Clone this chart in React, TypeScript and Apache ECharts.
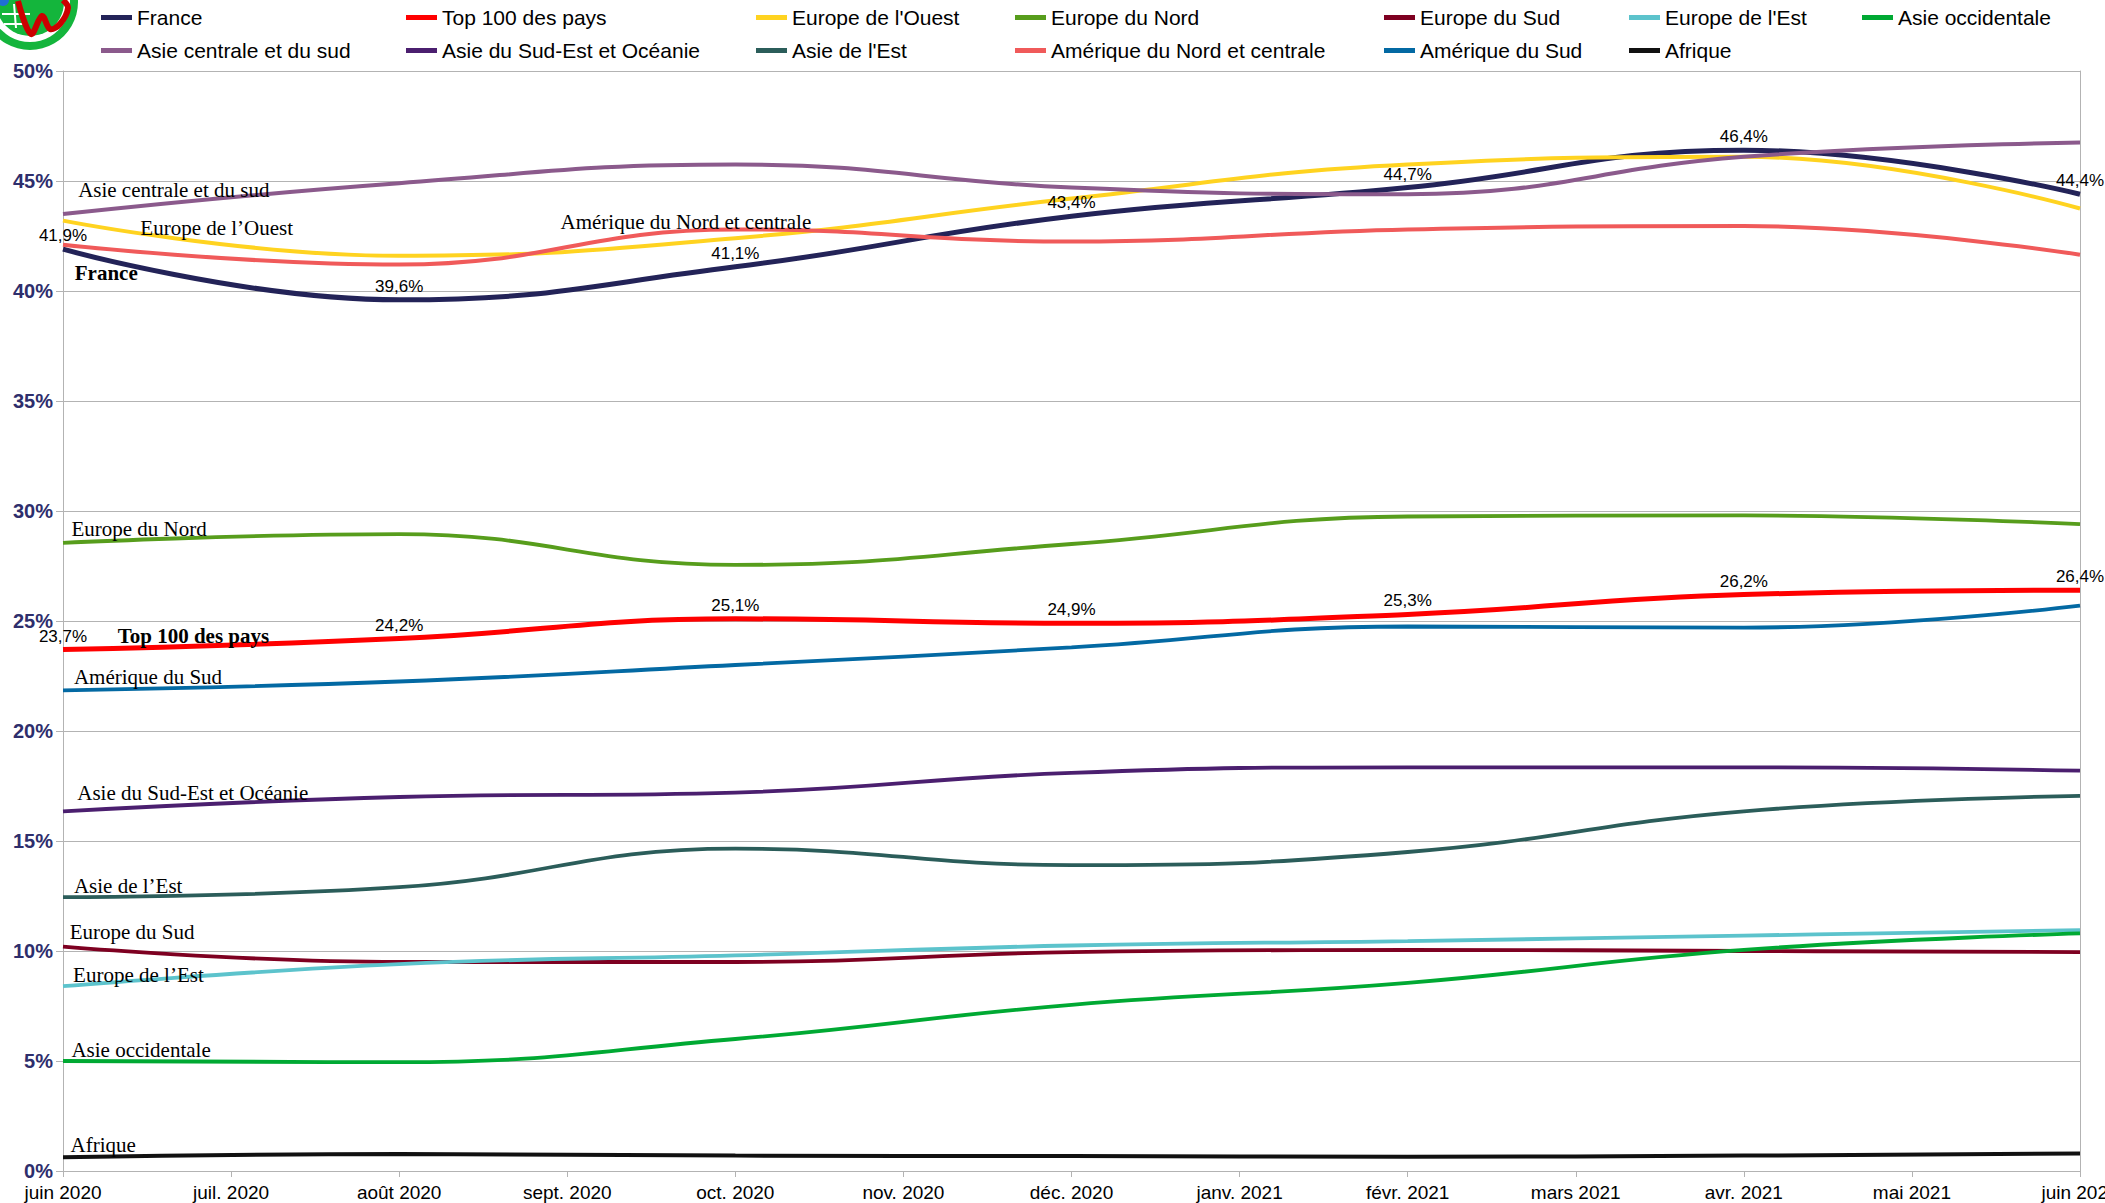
import React, { useEffect, useRef } from 'react';
import * as echarts from 'echarts';

const months = [
  'juin 2020', 'juil. 2020', 'août 2020', 'sept. 2020', 'oct. 2020', 'nov. 2020',
  'déc. 2020', 'janv. 2021', 'févr. 2021', 'mars 2021', 'avr. 2021', 'mai 2021', 'juin 2021',
];
// month index of each observation (bimonthly)
const sampleMonths = [0, 2, 4, 6, 8, 10, 12];

const yTicks = { min: 0, max: 50, step: 5 };

const france = [41.9, 39.6, 41.1, 43.4, 44.7, 46.4, 44.4];
const top100 = [23.7, 24.2, 25.1, 24.9, 25.3, 26.2, 26.4];
const europeOuest = [43.2, 41.6, 42.4, 44.2, 45.75, 46.1, 43.75];
const europeNord = [28.55, 28.95, 27.55, 28.5, 29.75, 29.8, 29.4];
const europeSud = [10.2, 9.5, 9.5, 9.95, 10.05, 10.0, 9.95];
const europeEst = [8.4, 9.4, 9.8, 10.25, 10.45, 10.7, 10.95];
const asieOcc = [5.0, 4.95, 6.0, 7.55, 8.55, 10.05, 10.8];
const asieCentrale = [43.5, 44.9, 45.75, 44.7, 44.4, 46.1, 46.75];
const asieSudEst = [16.35, 17.0, 17.2, 18.1, 18.35, 18.35, 18.2];
const asieEst = [12.45, 12.9, 14.65, 13.9, 14.5, 16.35, 17.05];
const ameriqueNord = [42.1, 41.2, 42.8, 42.25, 42.8, 42.95, 41.65];
const ameriqueSud = [21.85, 22.25, 23.0, 23.8, 24.75, 24.7, 25.7];
const afrique = [0.62, 0.77, 0.7, 0.68, 0.65, 0.7, 0.8];

const seriesDefs = [
  { name: 'France', data: france, color: '#232358', width: 5, labels: true },
  { name: 'Top 100 des pays', data: top100, color: '#ff0000', width: 5, labels: true },
  { name: "Europe de l'Ouest", data: europeOuest, color: '#ffd320', width: 4 },
  { name: 'Europe du Nord', data: europeNord, color: '#579d1c', width: 3.8 },
  { name: 'Europe du Sud', data: europeSud, color: '#7e0021', width: 3.8 },
  { name: "Europe de l'Est", data: europeEst, color: '#5cc3cc', width: 3.8 },
  { name: 'Asie occidentale', data: asieOcc, color: '#00a933', width: 3.8 },
  { name: 'Asie centrale et du sud', data: asieCentrale, color: '#8b5a8c', width: 4 },
  { name: 'Asie du Sud-Est et Océanie', data: asieSudEst, color: '#4b1f6f', width: 3.8 },
  { name: "Asie de l'Est", data: asieEst, color: '#2b5d5a', width: 3.8 },
  { name: 'Amérique du Nord et centrale', data: ameriqueNord, color: '#f05a5a', width: 4 },
  { name: 'Amérique du Sud', data: ameriqueSud, color: '#0369a3', width: 3.8 },
  { name: 'Afrique', data: afrique, color: '#111111', width: 4 },
];

// in-plot name annotations: [series, text, x (month index), y (%), bold]
const annotations: [string, string, number, number, boolean][] = [
  ['Asie centrale et du sud', 'Asie centrale et du sud', 0.09, 44.6, false],
  ["Europe de l'Ouest", 'Europe de l’Ouest', 0.46, 42.88, false],
  ['Amérique du Nord et centrale', 'Amérique du Nord et centrale', 2.96, 43.15, false],
  ['France', 'France', 0.07, 40.83, true],
  ['Europe du Nord', 'Europe du Nord', 0.05, 29.17, false],
  ['Top 100 des pays', 'Top 100 des pays', 0.325, 24.32, true],
  ['Amérique du Sud', 'Amérique du Sud', 0.065, 22.47, false],
  ['Asie du Sud-Est et Océanie', 'Asie du Sud-Est et Océanie', 0.085, 17.17, false],
  ["Asie de l'Est", 'Asie de l’Est', 0.065, 12.95, false],
  ['Europe du Sud', 'Europe du Sud', 0.04, 10.88, false],
  ["Europe de l'Est", 'Europe de l’Est', 0.06, 8.93, false],
  ['Asie occidentale', 'Asie occidentale', 0.05, 5.51, false],
  ['Afrique', 'Afrique', 0.045, 1.18, false],
];

const legendColumns = [
  ['France', 'Asie centrale et du sud'],
  ['Top 100 des pays', 'Asie du Sud-Est et Océanie'],
  ["Europe de l'Ouest", "Asie de l'Est"],
  ['Europe du Nord', 'Amérique du Nord et centrale'],
  ['Europe du Sud', 'Amérique du Sud'],
  ["Europe de l'Est", 'Afrique'],
  ['Asie occidentale'],
];
const legendLefts = [96, 401, 751, 1010, 1379, 1624, 1857];

const SANS = 'Liberation Sans, Arial, sans-serif';
const SERIF = 'Liberation Serif, Times New Roman, serif';

export default function App() {
  const ref = useRef<HTMLDivElement>(null);

  useEffect(() => {
    document.body.style.margin = '0';
    document.body.style.overflow = 'hidden';
    if (!ref.current) return;
    const chart = echarts.init(ref.current, undefined, { renderer: 'svg' });

    const series = seriesDefs.map((s) => {
      const ann = annotations.filter((a) => a[0] === s.name);
      return {
        name: s.name,
        type: 'line',
        yAxisIndex: 0,
        smooth: 0.45,
        symbol: 'circle',
        symbolSize: 0,
        showSymbol: true,
        color: s.color,
        itemStyle: { color: s.color },
        lineStyle: { color: s.color, width: s.width },
        data: s.data.map((v, i) => [sampleMonths[i], v]),
        label: s.labels
          ? {
              show: true,
              position: 'top',
              distance: 5,
              color: '#000',
              fontFamily: SANS,
              fontSize: 17,
              formatter: (p: any) => p.value[1].toFixed(1).replace('.', ',') + '%',
            }
          : { show: false },
        markPoint: ann.length
          ? {
              symbol: 'circle',
              symbolSize: 0,
              silent: true,
              itemStyle: { color: 'transparent' },
              data: ann.map((a) => ({
                coord: [a[2], a[3]],
                value: a[1],
                label: {
                  show: true,
                  position: 'right',
                  distance: 0,
                  formatter: a[1],
                  color: '#000',
                  fontFamily: SERIF,
                  fontSize: 21,
                  fontWeight: a[4] ? 'bold' : 'normal',
                },
              })),
            }
          : undefined,
      };
    });

    const legends = legendColumns.map((col, i) => ({
      orient: 'vertical',
      left: legendLefts[i],
      top: 2,
      data: col,
      icon: 'rect',
      itemWidth: 31,
      itemHeight: 5,
      itemGap: 12,
      selectedMode: false,
      textStyle: { color: '#000', fontFamily: SANS, fontSize: 21, lineHeight: 21, padding: [0, 0, 0, 0] },
    }));

    chart.setOption({
      animation: false,
      backgroundColor: '#ffffff',
      legend: legends,
      grid: { left: 63, right: 25, top: 71, bottom: 32, containLabel: false, outerBoundsMode: 'none' },
      xAxis: {
        type: 'value',
        min: 0,
        max: months.length - 1,
        interval: 1,
        axisLine: { show: true, lineStyle: { color: '#b3b3b3', width: 1 } },
        axisTick: { show: true, length: 6, lineStyle: { color: '#b3b3b3' } },
        splitLine: { show: false },
        axisLabel: {
          margin: 12,
          color: '#000',
          fontFamily: SANS,
          fontSize: 19,
          hideOverlap: false,
          formatter: (v: number) => months[Math.round(v)] ?? '',
        },
      },
      yAxis: [
        {
          type: 'value',
          min: yTicks.min,
          max: yTicks.max,
          interval: yTicks.step,
          axisLine: { show: true, lineStyle: { color: '#b3b3b3', width: 1 } },
          axisTick: { show: true, length: 7, lineStyle: { color: '#b3b3b3' } },
          splitLine: { show: true, lineStyle: { color: '#b3b3b3', width: 1 } },
          axisLabel: {
            margin: 10,
            color: '#2e2e6c',
            fontFamily: SANS,
            fontWeight: 'bold',
            fontSize: 20,
            formatter: (v: number) => v + '%',
          },
        },
        {
          type: 'value',
          position: 'right',
          min: yTicks.min,
          max: yTicks.max,
          interval: yTicks.step,
          axisLine: { show: true, lineStyle: { color: '#b3b3b3', width: 1 } },
          axisTick: { show: false },
          splitLine: { show: false },
          axisLabel: { show: false },
        },
      ],
      graphic: [
        { type: 'circle', silent: true, z: 100, shape: { cx: 30, cy: 2, r: 48 }, style: { fill: '#14b53c' } },
        { type: 'circle', silent: true, z: 101, shape: { cx: 30, cy: 2, r: 40 }, style: { fill: '#ffffff' } },
        { type: 'circle', silent: true, z: 102, shape: { cx: 30, cy: 2, r: 34 }, style: { fill: '#14b53c' } },
        { type: 'line', silent: true, z: 103, shape: { x1: 2, y1: 14, x2: 30, y2: 14 }, style: { stroke: '#ffffff', lineWidth: 2 } },
        { type: 'line', silent: true, z: 103, shape: { x1: 4, y1: 24, x2: 26, y2: 24 }, style: { stroke: '#ffffff', lineWidth: 2 } },
        { type: 'line', silent: true, z: 103, shape: { x1: 14, y1: 4, x2: 16, y2: 28 }, style: { stroke: '#ffffff', lineWidth: 2 } },
        { type: 'circle', silent: true, z: 104, shape: { cx: 3, cy: 0, r: 6 }, style: { fill: '#1f6fd6' } },
        {
          type: 'polyline',
          silent: true,
          z: 105,
          shape: { points: [[18, 1], [31, 34], [42, 16], [50, 29], [60, 24], [68, 8], [63, 0]], smooth: 0.35 },
          style: { stroke: '#cc0000', lineWidth: 6, fill: 'none' },
        },
      ],
      series,
    });

    return () => chart.dispose();
  }, []);

  return <div ref={ref} style={{ width: 2105, height: 1203 }} />;
}
